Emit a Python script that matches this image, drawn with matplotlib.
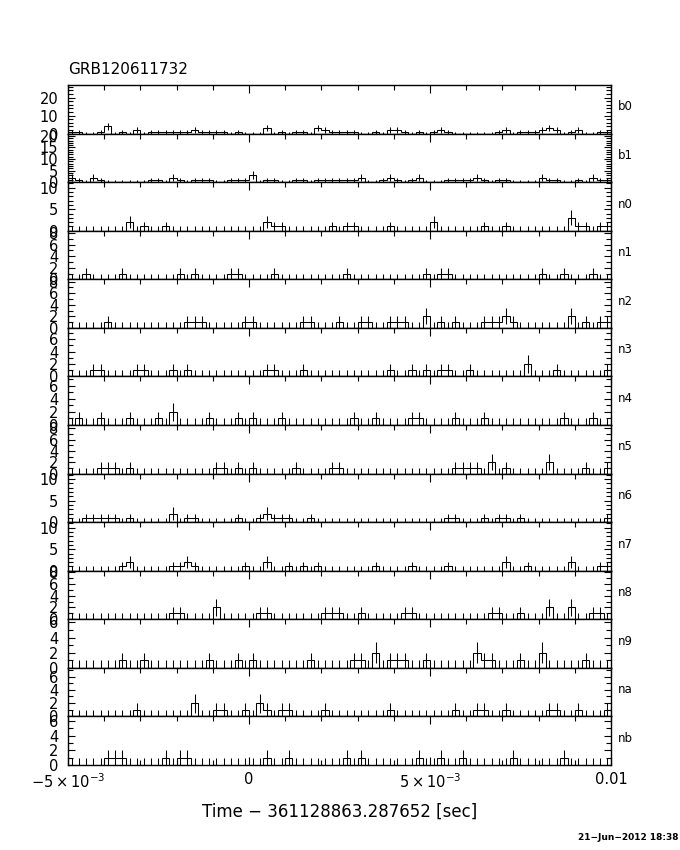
import numpy as np
import matplotlib
matplotlib.use('Agg')
import matplotlib.pyplot as plt
from matplotlib.ticker import MultipleLocator

# Detector names, top to bottom
detectors = ['b0', 'b1', 'n0', 'n1', 'n2', 'n3', 'n4',
             'n5', 'n6', 'n7', 'n8', 'n9', 'na', 'nb']

# Time binning (sec, relative to trigger time)
t_start = -5e-3
bin_width = 0.2e-3
n_bins = 75

# Counts per 0.2 ms bin
b0 = [1, 1, 0, 0, 1, 4, 0, 1, 0, 2, 0, 1, 1, 1, 1,
      1, 1, 2, 1, 1, 1, 1, 0, 1, 0, 0, 0, 3, 0, 1,
      0, 1, 1, 0, 3, 2, 1, 1, 1, 1, 0, 0, 1, 0, 2,
      2, 1, 0, 1, 0, 1, 2, 1, 0, 0, 0, 0, 0, 0, 1,
      2, 0, 1, 1, 1, 2, 3, 2, 0, 1, 2, 0, 0, 1, 1]
b1 = [2, 1, 0, 2, 1, 0, 0, 0, 0, 0, 0, 1, 1, 0, 2,
      1, 0, 1, 1, 1, 0, 0, 1, 1, 1, 3, 0, 1, 1, 0,
      0, 1, 1, 0, 1, 1, 1, 1, 1, 1, 2, 0, 0, 1, 2,
      1, 0, 1, 2, 0, 0, 0, 1, 1, 1, 1, 2, 1, 0, 1,
      1, 0, 0, 0, 0, 2, 1, 1, 0, 0, 1, 0, 2, 1, 1]
n0 = [0, 0, 0, 0, 0, 0, 0, 0, 2, 0, 1, 0, 0, 1, 0,
      0, 0, 0, 0, 0, 0, 0, 0, 0, 0, 0, 0, 2, 1, 1,
      0, 0, 0, 0, 0, 0, 1, 0, 1, 1, 0, 0, 0, 0, 1,
      0, 0, 0, 0, 0, 2, 0, 0, 0, 0, 0, 0, 1, 0, 0,
      1, 0, 0, 0, 0, 0, 0, 0, 0, 3, 1, 1, 0, 1, 1]
n1 = [0, 0, 1, 0, 0, 0, 0, 1, 0, 0, 0, 0, 0, 0, 0,
      1, 0, 1, 0, 0, 0, 0, 1, 1, 0, 0, 0, 0, 1, 0,
      0, 0, 0, 0, 0, 0, 0, 0, 1, 0, 0, 0, 0, 0, 0,
      0, 0, 0, 0, 1, 0, 1, 1, 0, 0, 0, 0, 0, 0, 0,
      0, 0, 0, 0, 0, 1, 0, 0, 1, 0, 0, 0, 1, 0, 0]
n2 = [0, 0, 0, 0, 0, 1, 0, 0, 0, 0, 0, 0, 0, 0, 0,
      0, 1, 1, 1, 0, 0, 0, 0, 0, 1, 1, 0, 0, 0, 0,
      0, 0, 1, 1, 0, 0, 0, 1, 0, 0, 1, 1, 0, 0, 1,
      1, 1, 0, 0, 2, 0, 1, 0, 1, 0, 0, 0, 1, 1, 1,
      2, 1, 0, 0, 0, 0, 0, 0, 0, 2, 0, 1, 0, 1, 1]
n3 = [0, 0, 0, 1, 1, 0, 0, 0, 0, 1, 1, 0, 0, 0, 1,
      0, 1, 0, 0, 0, 0, 0, 0, 0, 0, 0, 0, 1, 1, 0,
      0, 0, 1, 0, 0, 0, 0, 0, 0, 0, 0, 0, 0, 0, 1,
      0, 0, 1, 0, 1, 0, 1, 1, 0, 0, 1, 0, 0, 0, 0,
      0, 0, 0, 2, 0, 0, 0, 1, 0, 0, 0, 0, 0, 0, 1]
n4 = [0, 1, 0, 0, 1, 0, 0, 0, 1, 0, 0, 0, 1, 0, 2,
      0, 0, 0, 0, 1, 0, 0, 0, 1, 0, 1, 0, 0, 0, 1,
      0, 0, 0, 0, 0, 0, 0, 0, 0, 1, 0, 0, 1, 0, 0,
      0, 0, 1, 1, 0, 0, 0, 0, 1, 0, 0, 0, 1, 0, 0,
      0, 0, 0, 0, 0, 0, 0, 0, 1, 0, 0, 0, 1, 0, 0]
n5 = [0, 0, 0, 0, 1, 1, 1, 0, 1, 0, 0, 0, 0, 0, 0,
      0, 0, 0, 0, 0, 1, 1, 0, 1, 0, 1, 0, 0, 0, 0,
      0, 1, 0, 0, 0, 0, 1, 1, 0, 0, 0, 0, 0, 0, 0,
      0, 0, 0, 0, 0, 0, 0, 0, 1, 1, 1, 1, 0, 2, 0,
      1, 0, 0, 0, 0, 0, 2, 0, 0, 0, 0, 1, 0, 0, 1]
n6 = [0, 0, 1, 1, 1, 1, 1, 0, 1, 0, 0, 0, 0, 0, 2,
      0, 1, 1, 0, 0, 0, 0, 0, 1, 0, 0, 1, 2, 1, 1,
      1, 0, 0, 1, 0, 0, 0, 0, 0, 0, 0, 0, 0, 0, 0,
      0, 0, 0, 0, 0, 0, 0, 1, 1, 0, 0, 0, 1, 0, 1,
      1, 0, 1, 0, 0, 0, 0, 0, 0, 0, 0, 0, 0, 0, 1]
n7 = [0, 0, 0, 0, 0, 0, 0, 1, 2, 0, 0, 0, 0, 0, 1,
      1, 2, 1, 0, 0, 0, 0, 0, 0, 1, 0, 0, 2, 0, 0,
      1, 0, 1, 0, 1, 0, 0, 0, 0, 0, 0, 0, 1, 0, 0,
      0, 0, 1, 0, 0, 0, 0, 1, 0, 0, 0, 0, 0, 0, 0,
      2, 0, 0, 1, 0, 0, 0, 0, 0, 2, 0, 0, 0, 1, 1]
n8 = [0, 0, 0, 0, 0, 0, 0, 0, 0, 0, 0, 0, 0, 0, 1,
      1, 0, 0, 0, 0, 2, 0, 0, 0, 0, 0, 1, 1, 0, 0,
      0, 0, 0, 0, 0, 1, 1, 1, 0, 0, 1, 0, 0, 0, 0,
      0, 1, 1, 0, 0, 0, 0, 0, 0, 0, 0, 0, 0, 1, 1,
      0, 0, 1, 0, 0, 0, 2, 0, 0, 2, 0, 0, 1, 1, 0]
n9 = [0, 0, 0, 0, 0, 0, 0, 1, 0, 0, 1, 0, 0, 0, 0,
      0, 0, 0, 0, 1, 0, 0, 0, 1, 0, 1, 0, 0, 0, 0,
      0, 0, 0, 1, 0, 0, 0, 0, 0, 1, 1, 0, 2, 0, 1,
      1, 1, 0, 0, 1, 0, 0, 0, 0, 0, 0, 2, 1, 1, 0,
      0, 0, 1, 0, 0, 2, 0, 0, 0, 0, 0, 1, 0, 0, 0]
na = [0, 0, 0, 0, 0, 0, 0, 0, 0, 1, 0, 0, 0, 0, 0,
      0, 0, 2, 0, 0, 1, 1, 0, 0, 1, 0, 2, 1, 0, 1,
      1, 0, 0, 0, 0, 1, 0, 0, 0, 0, 0, 0, 0, 0, 1,
      0, 0, 0, 0, 0, 0, 0, 0, 1, 0, 0, 1, 1, 0, 0,
      1, 0, 0, 0, 0, 0, 1, 1, 0, 0, 1, 0, 0, 0, 1]
nb = [0, 0, 0, 0, 0, 1, 1, 1, 0, 0, 0, 0, 0, 1, 0,
      1, 1, 0, 0, 0, 0, 0, 0, 0, 0, 0, 0, 1, 0, 0,
      1, 0, 0, 0, 0, 0, 0, 0, 1, 0, 1, 0, 0, 0, 0,
      0, 0, 0, 1, 0, 0, 1, 0, 0, 1, 0, 0, 0, 0, 0,
      0, 1, 0, 0, 0, 0, 0, 0, 1, 0, 0, 0, 0, 0, 0]

counts_list = [b0, b1, n0, n1, n2, n3, n4, n5, n6, n7, n8, n9, na, nb]

# y-axis upper limits and tick spacing per panel
y_max = [27, 21, 11.3, 8.4, 8.4, 7.8, 7.4, 8.6, 11.3, 11.3, 8.2, 6.4, 7.3, 6.6]
y_major = [10, 5, 5, 2, 2, 2, 2, 2, 5, 5, 2, 2, 2, 2]
y_minor = [2, 1, 1, 1, 1, 1, 1, 1, 1, 1, 1, 1, 1, 1]

x_tick_vals = [-5e-3, 0, 5e-3, 0.01]
x_tick_labels = [r'$-5\times10^{-3}$', '0', r'$5\times10^{-3}$', '0.01']

edges = t_start + bin_width * np.arange(n_bins + 1)
centers = 0.5 * (edges[:-1] + edges[1:])

fig, axes = plt.subplots(len(detectors), 1, figsize=(6.8, 8.5), dpi=100, sharex=True)
fig.subplots_adjust(left=0.1, right=0.8985, top=0.9, bottom=0.1, hspace=0)

for i, ax in enumerate(axes):
    c = np.array(counts_list[i], dtype=float)
    err = np.sqrt(c)
    lo = np.clip(c - err, 0, None)
    hi = c + np.where(c > 0, err, 1.0)

    # step histogram plus counting error bars
    ax.stairs(c, edges, color='black', lw=0.75, baseline=0)
    ax.vlines(centers, lo, hi, color='black', lw=0.75)

    ax.set_xlim(t_start, 0.01)
    ax.set_ylim(0, y_max[i])

    ax.xaxis.set_major_locator(MultipleLocator(5e-3))
    ax.xaxis.set_minor_locator(MultipleLocator(1e-3))
    ax.yaxis.set_major_locator(MultipleLocator(y_major[i]))
    ax.yaxis.set_minor_locator(MultipleLocator(y_minor[i]))

    last = (i == len(axes) - 1)
    ax.tick_params(axis='x', which='both', direction='in', top=True,
                   bottom=last, labelbottom=last)
    ax.tick_params(axis='x', which='major', length=6, width=0.8)
    ax.tick_params(axis='x', which='minor', length=3.5, width=0.8)
    ax.tick_params(axis='y', which='both', direction='in', left=True, right=True,
                   width=0.8, labelsize=10.5, pad=7)
    ax.tick_params(axis='y', which='major', length=5)
    ax.tick_params(axis='y', which='minor', length=3.5)

    for sp in ax.spines.values():
        sp.set_linewidth(1.0)

    ax.text(1.012, 0.55, detectors[i], transform=ax.transAxes,
            fontsize=8.5, ha='left', va='center')

axes[-1].set_xticks(x_tick_vals)
axes[-1].set_xticklabels(x_tick_labels)
axes[-1].tick_params(axis='x', labelsize=10.5, pad=5)

fig.text(0.1, 1 - 70 / 850, 'GRB120611732', fontsize=11, ha='left', va='center')
fig.text(340 / 680, 1 - 812 / 850, 'Time \u2212 361128863.287652 [sec]',
         fontsize=12, ha='center', va='center')
fig.text(678 / 680, 1 - 838 / 850, '21\u2212Jun\u22122012 18:38',
         fontsize=6.5, ha='right', va='center', weight='bold')

fig.savefig('out.png', dpi=100)
